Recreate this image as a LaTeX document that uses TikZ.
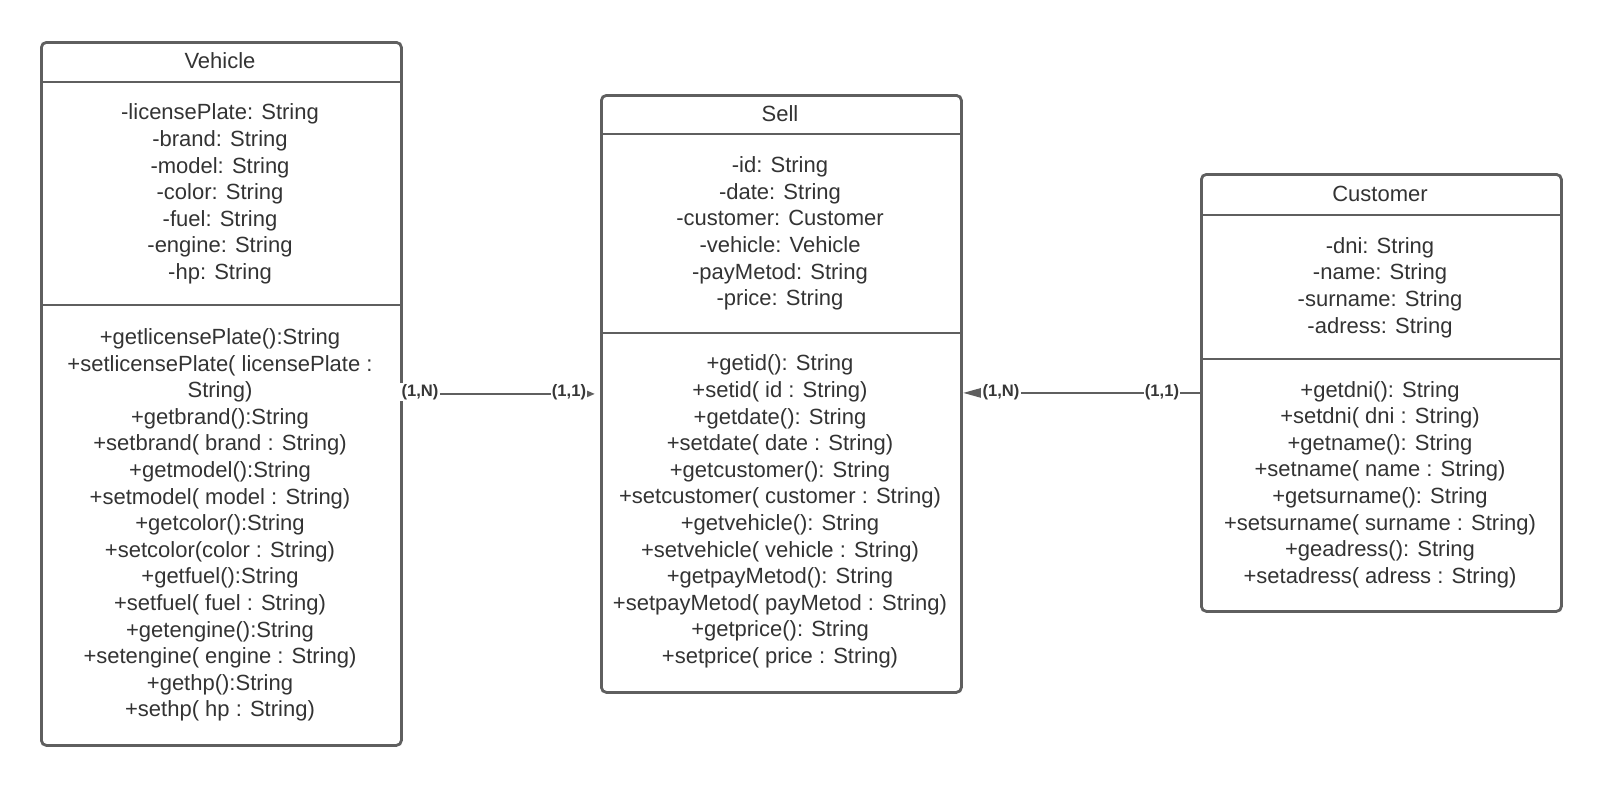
\documentclass[tikz,border=0pt]{standalone}
\usepackage{fontspec}
\setmainfont{Liberation Sans}
\usetikzlibrary{arrows.meta}
\definecolor{boxline}{RGB}{95,95,95}
\definecolor{txt}{RGB}{51,51,51}
\definecolor{labtxt}{RGB}{55,55,55}
\tikzset{
  classbox/.style={draw=boxline, line width=1.4pt, rounded corners=2.5pt, rectangle, anchor=north west, minimum width=180pt, inner sep=0pt},
  sepline/.style={draw=boxline, line width=1.4pt},
  members/.style={align=center, text=txt, font=\fontsize{11}{13.3}\selectfont, inner sep=0pt, yshift=-1.5pt},
  conn/.style={draw=boxline, line width=1.4pt},
  mult/.style={fill=white, text=labtxt, font=\bfseries\fontsize{8.3}{10}\selectfont, inner sep=0.6pt}
}
\begin{document}
\begin{tikzpicture}[x=0.5pt,y=-0.5pt]
\useasboundingbox (0,0) rectangle (1600,784);
% boxes
\node[classbox, minimum height=351.5pt] (veh) at (40,41) {};
\node[classbox, minimum height=298.5pt] (sell) at (600,94) {};
\node[classbox, minimum height=218.5pt] (cust) at (1200,173) {};
% separators
\draw[sepline] (veh.west |- 0,82) -- (veh.east |- 0,82);
\draw[sepline] (veh.west |- 0,305) -- (veh.east |- 0,305);
\draw[sepline] (sell.west |- 0,134) -- (sell.east |- 0,134);
\draw[sepline] (sell.west |- 0,333) -- (sell.east |- 0,333);
\draw[sepline] (cust.west |- 0,215) -- (cust.east |- 0,215);
\draw[sepline] (cust.west |- 0,359) -- (cust.east |- 0,359);
% Vehicle
\node[members] (vehname) at (220,58) {Vehicle};
\node[members] (vehattr) at (220,191) {-licensePlate: String\\-brand: String\\-model: String\\-color: String\\-fuel: String\\-engine: String\\-hp: String};
\node[members] (vehops) at (220,522) {+getlicensePlate():String\\+setlicensePlate( licensePlate :\\String)\\+getbrand():String\\+setbrand( brand : String)\\+getmodel():String\\+setmodel( model : String)\\+getcolor():String\\+setcolor(color : String)\\+getfuel():String\\+setfuel( fuel : String)\\+getengine():String\\+setengine( engine : String)\\+gethp():String\\+sethp( hp : String)};
% Sell
\node[members] (sellname) at (780,111) {Sell};
\node[members] (sellattr) at (780,230.5) {-id: String\\-date: String\\-customer: Customer\\-vehicle: Vehicle\\-payMetod: String\\-price: String};
\node[members] (sellops) at (780,508.5) {+getid(): String\\+setid( id : String)\\+getdate(): String\\+setdate( date : String)\\+getcustomer(): String\\+setcustomer( customer : String)\\+getvehicle(): String\\+setvehicle( vehicle : String)\\+getpayMetod(): String\\+setpayMetod( payMetod : String)\\+getprice(): String\\+setprice( price : String)};
% Customer
\node[members] (custname) at (1380,191) {Customer};
\node[members] (custattr) at (1380,284.5) {-dni: String\\-name: String\\-surname: String\\-adress: String};
\node[members] (custops) at (1380,481.5) {+getdni(): String\\+setdni( dni : String)\\+getname(): String\\+setname( name : String)\\+getsurname(): String\\+setsurname( surname : String)\\+geadress(): String\\+setadress( adress : String)};
% connectors
\draw[conn, -{Triangle[length=4pt,width=3pt]}, shorten >=2.5pt] (veh.east) -- (sell.west);
\draw[conn, -{Triangle[length=10pt,width=5pt]}] (cust.west) -- (cust.west -| sell.east);
% multiplicities
\node[mult] (m1) at (420,392) {(1,N)};
\node[mult] (m2) at (569,392) {(1,1)};
\node[mult] (m3) at (1001,392) {(1,N)};
\node[mult] (m4) at (1162,392) {(1,1)};
\end{tikzpicture}
\end{document}
